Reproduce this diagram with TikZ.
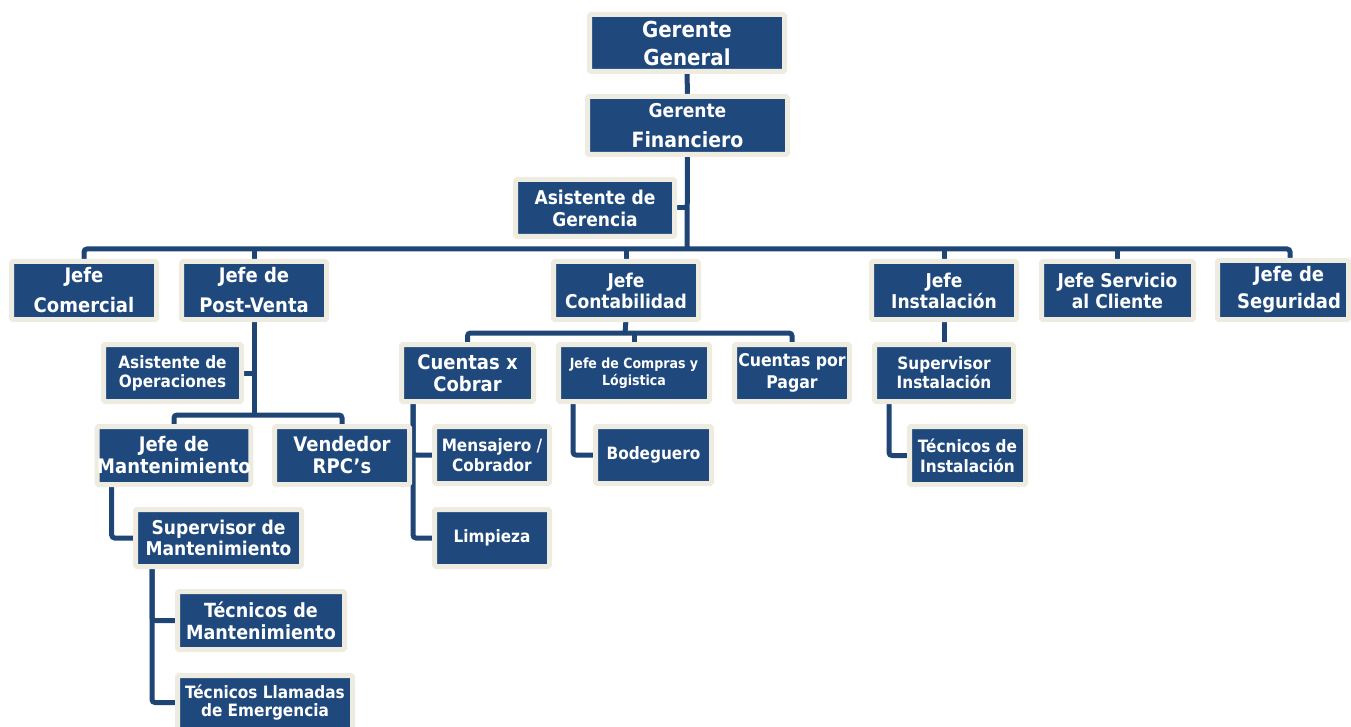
\documentclass[tikz,border=0pt]{standalone}
\usepackage{fontspec}
\setmainfont{DejaVu Sans Condensed}[BoldFont={DejaVu Sans Condensed Bold}]
\usetikzlibrary{calc,backgrounds}
\definecolor{boxblue}{HTML}{1F497D}
\definecolor{boxedge}{HTML}{EEECE1}
\definecolor{linkblue}{HTML}{1F4575}

\tikzset{
  orgbox/.style={draw=boxedge, fill=boxblue, line width=5pt, rounded corners=1.5pt,
    text=white, align=center, inner sep=0pt, outer sep=0pt},
  link/.style={draw=linkblue, line width=5pt, rounded corners=3pt}
}

% name, left, top, right, bottom (outer edge, in px), font size, line skip, text
\newcommand\orgnode[8]{%
  \node[orgbox, minimum width={(#4)-(#2)-5}, minimum height={(#5)-(#3)-5},
        font=\bfseries\fontsize{#6}{#7}\selectfont]
    (#1) at ({((#2)+(#4))/2},{((#3)+(#5))/2}) {#8};
}

\begin{document}
\begin{tikzpicture}[x=1pt,y=-1pt]
\useasboundingbox (0,0) rectangle (1351,727);

% top management
\orgnode{gg}{587}{12}{787}{74}{22}{28}{Gerente\\General}
\orgnode{gf}{585}{94}{790}{157}{21}{30}{{\fontsize{19}{20}\selectfont Gerente}\\Financiero}
\orgnode{ag}{513}{177}{677}{239}{19}{22}{Asistente de\\Gerencia}

% department heads
\orgnode{jcom}{9}{259}{159}{322}{20}{30}{Jefe\\Comercial}
\orgnode{jpv}{179}{259}{329}{322}{20}{30}{Jefe de\\Post-Venta}
\orgnode{jcont}{551}{259}{701}{322}{19}{21}{Jefe\\Contabilidad}
\orgnode{jinst}{869}{259}{1019}{322}{19}{21}{Jefe\\Instalación}
\orgnode{jsc}{1039}{259}{1196}{322}{19}{21}{Jefe Servicio\\al Cliente}
\orgnode{jseg}{1215}{258}{1351}{322}{20}{27}{\hspace*{12pt}Jefe de\\\hspace*{12pt}Seguridad}

% post-venta
\orgnode{ao}{101}{342}{244}{404}{17}{19}{Asistente de\\Operaciones}
\orgnode{jdm}{96}{424}{252}{487}{20}{22}{Jefe de\\Mantenimiento}
\orgnode{vend}{272}{424}{412}{487}{20}{22}{Vendedor\\RPC’s}
\orgnode{sdm}{133}{507}{304}{569}{19}{21}{Supervisor de\\Mantenimiento}
\orgnode{tm}{175}{589}{347}{652}{19.5}{22}{Técnicos de\\Mantenimiento}
\orgnode{tle}{175}{673}{355}{732}{17}{18}{Técnicos Llamadas\\de Emergencia}

% contabilidad
\orgnode{cxc}{399}{342}{536}{404}{20}{22}{Cuentas x\\Cobrar}
\orgnode{jcomp}{556}{342}{712}{404}{14}{17}{Jefe de Compras y\\Lógistica}
\orgnode{cxp}{732}{342}{852}{404}{17.5}{22}{Cuentas por\\Pagar}
\orgnode{msj}{432}{424}{552}{486}{17}{20}{Mensajero /\\Cobrador}
\orgnode{limp}{432}{507}{552}{569}{17}{20}{Limpieza}
\orgnode{bod}{593}{424}{714}{486}{17}{20}{Bodeguero}

% instalación
\orgnode{si}{872}{342}{1016}{404}{17}{19}{Supervisor\\Instalación}
\orgnode{ti}{907}{424}{1028}{487}{17}{20}{Técnicos de\\Instalación}

\begin{scope}[on background layer]
  \coordinate (bus) at (687,249);
  \coordinate (pvbar) at (254,415);
  \coordinate (cbar) at (625,333);

  \draw[link] (gg.south) -- (gf.north);
  \draw[link] (gf.south) -- (bus);
  \draw[link] (ag.east) -- (ag.east -| bus);
  \draw[link] (jcom.north) |- (bus) -| ($(jseg.north)+(7,0)$);
  \draw[link] (jpv.north) -- (jpv.north |- bus);
  \draw[link] (jcont.north) -- (jcont.north |- bus);
  \draw[link] (jinst.north) -- (jinst.north |- bus);
  \draw[link] (jsc.north) -- (jsc.north |- bus);

  \draw[link] (jpv.south) -- (pvbar);
  \draw[link] (ao.east) -- (ao.east -| pvbar);
  \draw[link] (jdm.north) |- (pvbar) -| (vend.north);
  \draw[link] ($(jdm.south west)+(14.5,0)$) |- (sdm.west);
  \draw[link] ($(sdm.south west)+(16.5,0)$) |- (tm.west);
  \draw[link] ($(sdm.south west)+(16.5,0)$) |- (tle.west);

  \draw[link] (jcont.south) -- (cbar);
  \draw[link] (cxc.north) |- (cbar) -| (cxp.north);
  \draw[link] (jcomp.north) -- (jcomp.north |- cbar);
  \draw[link] ($(cxc.south west)+(11.5,0)$) |- (msj.west);
  \draw[link] ($(cxc.south west)+(11.5,0)$) |- (limp.west);
  \draw[link] ($(jcomp.south west)+(14.5,0)$) |- (bod.west);

  \draw[link] (jinst.south) -- (si.north);
  \draw[link] ($(si.south west)+(14.5,0)$) |- (ti.west);
\end{scope}
\end{tikzpicture}
\end{document}
